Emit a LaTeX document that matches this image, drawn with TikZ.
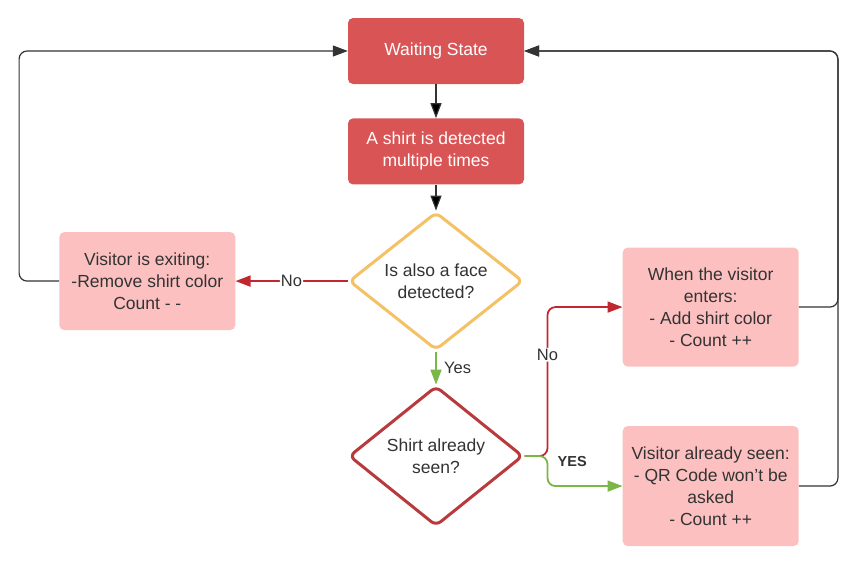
\documentclass[tikz,border=0pt]{standalone}
\usepackage{fontspec}
\setmainfont{Liberation Sans}
\usepackage{tikz}
\usetikzlibrary{arrows.meta,positioning,shapes.geometric}
\definecolor{boxred}{HTML}{D95555}
\definecolor{boxpink}{HTML}{FCC0C0}
\definecolor{ochre}{HTML}{F4C165}
\definecolor{crimson}{HTML}{B93A3C}
\definecolor{nored}{HTML}{C0272F}
\definecolor{yesgreen}{HTML}{7AB648}
\definecolor{ink}{HTML}{333333}

\begin{document}
\begin{tikzpicture}[x=1pt,y=1pt,>={Triangle[length=15pt,width=11pt]},
		font=\fontsize{17.5}{22}\selectfont, text=ink,
		dark/.style={rectangle, rounded corners=5pt, fill=boxred, text=white, minimum width=176pt, align=center},
		light/.style={rectangle, rounded corners=5pt, fill=boxpink, minimum width=176pt, align=center},
		ask/.style={diamond, rounded corners=6pt, line width=3pt, fill=white, inner sep=0pt, minimum width=174pt, minimum height=130pt, align=center},
		link/.style={->, draw=ink, line width=1.2pt, rounded corners=8pt},
		nope/.style={->, draw=nored, line width=1.8pt, rounded corners=8pt},
		yes/.style={->, draw=yesgreen, line width=1.8pt, rounded corners=8pt},
		lbl/.style={font=\fontsize{16.5}{20}\selectfont}]
			\useasboundingbox (0,0) rectangle (853,-565);

			\node[dark, minimum height=66pt] (0) at (436,-51) {Waiting State};
			\node[dark, minimum height=66pt] (1) [below=34pt of 0] {A shirt is detected\\multiple times};
			\node[ask, draw=ochre] (2) [below=26pt of 1] {Is also a face\\detected?};
			\node[light, minimum height=98pt] (3) [left=112pt of 2] {Visitor is exiting:\\-Remove shirt color\\Count - -};
			\node[ask, draw=crimson, minimum height=140pt] (4) [below=33pt of 2] {Shirt already\\seen?};
			\node[light, minimum height=119pt] (5) [right=98pt of 4, yshift=149pt] {When the visitor\\enters:\\- Add shirt color\\- Count ++};
			\node[light, minimum height=120pt] (6) [right=98pt of 4, yshift=-30pt] {Visitor already seen:\\- QR Code won't be\\asked\\- Count ++};

			\path[link]
				(0) edge (1)
				(1) edge (2)
			;
			\draw[nope] (2) -- node[lbl, fill=white, inner sep=1pt] {No} (3);
			\draw[yes] (2) -- node[lbl, right=4pt] {Yes} (4);
			\draw[nope] (4.east) -- ++(23,0) |- node[lbl, pos=.34, fill=white, inner sep=1pt] {No} (5.west);
			\draw[yes] (4.east) -- ++(23,0) |- node[pos=.25, right=6pt, yshift=10pt, font=\fontsize{14.5}{18}\selectfont\bfseries] {YES} (6.west);
			\draw[link] (3.west) -- ++(-40,0) |- (0.west);
			\draw[link] (5.east) -- ++(39,0) |- (0.east);
			\draw[link] (6.east) -- ++(39,0) |- (0.east);
		\end{tikzpicture}
\end{document}
